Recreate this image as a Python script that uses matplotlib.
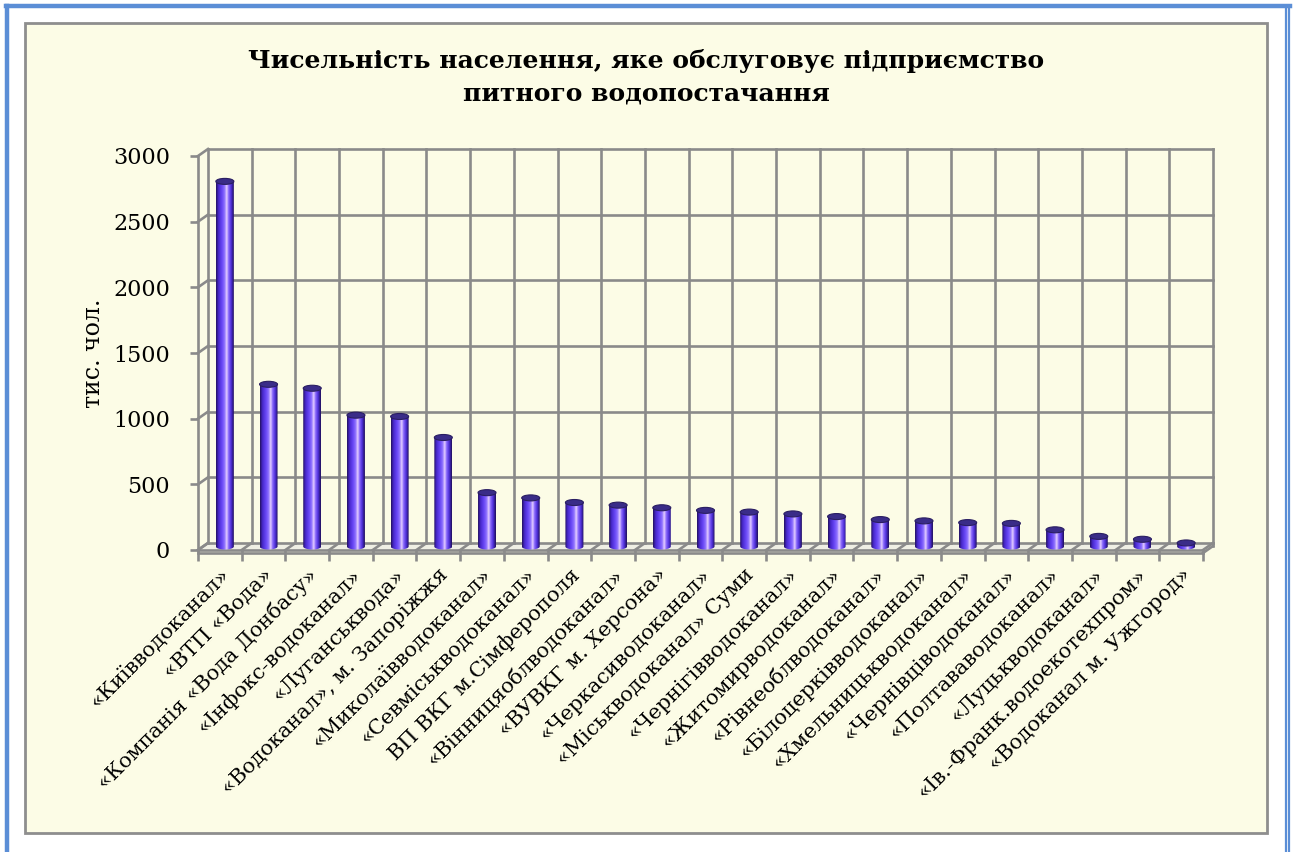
import numpy as np
import matplotlib
matplotlib.use("Agg")
import matplotlib.pyplot as plt
from matplotlib.patches import Rectangle, Ellipse, Polygon
from matplotlib.colors import LinearSegmentedColormap
from matplotlib.lines import Line2D

# ---------------- data ----------------
categories = [
    "«Київводоканал»", "«ВТП «Вода»", "«Компанія «Вода Донбасу»",
    "«Інфокс-водоканал»", "«Луганськвода»", "«Водоканал», м. Запоріжжя",
    "«Миколаївводоканал»", "«Севміськводоканал»", "ВП ВКГ м.Сімферополя",
    "«Вінницяоблводоканал»", "«ВУВКГ м. Херсона»", "«Черкасиводоканал»",
    "«Міськводоканал» Суми", "«Чернігівводоканал»", "«Житомирводоканал»",
    "«Рівнеоблводоканал»", "«Білоцерківводоканал»", "«Хмельницькводоканал»",
    "«Чернівціводоканал»", "«Полтававодоканал»", "«Луцькводоканал»",
    "«Ів.-Франк.водоекотехпром»", "«Водоканал м. Ужгород»",
]
values = [2780, 1235, 1205, 1000, 990, 830, 410, 370, 335, 315, 295, 275,
          262, 248, 228, 205, 195, 182, 176, 127, 77, 55, 27]
y_ticks = [0, 500, 1000, 1500, 2000, 2500, 3000]
title = "Чисельність населення, яке обслуговує підприємство\nпитного водопостачання"
y_label = "тис. чол."

# ---------------- layout ----------------
W, H = 1294, 852
fig = plt.figure(figsize=(W / 100, H / 100), dpi=100)
fig.patch.set_facecolor("white")

def fx(px):
    return px / W

def fy(py):
    return 1 - py / H

# blue page border
blue = "#5B8ED6"
fig.add_artist(Line2D([fx(7), fx(7)], [fy(6), 0], color=blue, lw=3.2, transform=fig.transFigure))
fig.add_artist(Line2D([fx(5.5), fx(1290)], [fy(6), fy(6)], color=blue, lw=3.2, transform=fig.transFigure))
fig.add_artist(Line2D([fx(1285.5), fx(1285.5)], [fy(6), 0], color=blue, lw=1.6, transform=fig.transFigure))
fig.add_artist(Line2D([fx(1289), fx(1289)], [fy(6), 0], color=blue, lw=1.6, transform=fig.transFigure))

# chart area
fig.add_artist(Rectangle((fx(25), fy(833)), fx(1267) - fx(25), fy(23) - fy(833),
                         transform=fig.transFigure, facecolor="#FCFCE6",
                         edgecolor="#8E8E8E", lw=2.0, zorder=0))

# title
fig.text(fx(646), fy(77), title, ha="center", va="center", fontsize=18,
         fontweight="bold", family="DejaVu Serif", linespacing=1.45)

# axes = front plane
x0p, x1p, ytop, ybot = 198, 1203, 156, 550
ax = fig.add_axes([fx(x0p), fy(ybot), fx(x1p) - fx(x0p), fy(ytop) - fy(ybot)])
ax.set_facecolor("none")
n = len(categories)
ymax = 3000
ux = n / (x1p - x0p)          # data units per pixel (x)
uy = ymax / (ybot - ytop)     # data units per pixel (y)

grid = "#8A8A8A"
glw = 1.9
dxb, dyb = 10 * ux, 7 * uy    # back-wall offset
dxm, dym = 5 * ux, 3.5 * uy   # bar (mid-depth) offset

# back wall grid
for v in y_ticks:
    ax.plot([dxb, n + dxb], [v + dyb, v + dyb], color=grid, lw=glw, clip_on=False, zorder=1)
    ax.plot([0, dxb], [v, v + dyb], color=grid, lw=glw, clip_on=False, zorder=1)
for i in range(n + 1):
    ax.plot([i + dxb, i + dxb], [dyb, ymax + dyb], color=grid, lw=glw, clip_on=False, zorder=1)
    ax.plot([i, i + dxb], [0, dyb], color=grid, lw=glw, clip_on=False, zorder=1)
# floor
ax.add_patch(Polygon([[0, 0], [n, 0], [n + dxb, dyb], [dxb, dyb]], closed=True,
                     facecolor="#EFEFE4", edgecolor="none", zorder=0.5, clip_on=False))
ax.plot([n, n + dxb], [-3 * uy, dyb - 3 * uy], color=grid, lw=glw, clip_on=False, zorder=1)
ax.plot([0, n], [-3 * uy, -3 * uy], color=grid, lw=glw, clip_on=False, zorder=1)
ax.plot([n + dxb, n + dxb], [dyb, dyb - 3 * uy], color=grid, lw=glw, clip_on=False, zorder=1)

# cylinder gradient
cmap = LinearSegmentedColormap.from_list("cyl", [
    (0.0, "#22105A"), (0.12, "#4526C8"), (0.33, "#6846F6"), (0.5, "#9478FF"),
    (0.6, "#F3DEFF"), (0.68, "#9474FF"), (0.85, "#4E2EDC"), (1.0, "#1E0E56")])
grad = np.linspace(0, 1, 64).reshape(1, -1)

bw = 18 * ux
eh = 6 * uy
th = np.linspace(np.pi, 2 * np.pi, 40)
for i, v in enumerate(values):
    c = i + 0.5 + dxm
    b = dym
    t = v + dym
    pts = np.column_stack([c + bw / 2 * np.cos(th), b + eh / 2 * np.sin(th)])
    pts = np.vstack([pts, [[c + bw / 2, t], [c - bw / 2, t]]])
    clip = Polygon(pts, closed=True, transform=ax.transData, facecolor="none", edgecolor="none")
    ax.add_patch(clip)
    im = ax.imshow(grad, cmap=cmap, aspect="auto", interpolation="bicubic",
                   extent=[c - bw / 2, c + bw / 2, b - eh, t], zorder=3)
    im.set_clip_path(clip)
    ax.add_patch(Ellipse((c, t), bw, eh, facecolor="#3A2C88", edgecolor="#2A1E62",
                         lw=0.8, zorder=4))

ax.set_xlim(0, n)
ax.set_ylim(0, ymax)

# spines / ticks
for s in ["top", "right"]:
    ax.spines[s].set_visible(False)
ax.spines["left"].set_color(grid)
ax.spines["left"].set_linewidth(glw)
ax.spines["bottom"].set_color(grid)
ax.spines["bottom"].set_linewidth(glw)

ax.set_yticks(y_ticks)
ax.set_yticklabels([str(v) for v in y_ticks], family="DejaVu Serif", fontsize=16)
ax.tick_params(axis="y", length=6, width=glw, color=grid, pad=14)

ax.set_xticks(np.arange(n) + 0.5)
ax.set_xticklabels(categories, rotation=45, ha="right", rotation_mode="anchor",
                   family="DejaVu Serif", fontsize=15)
ax.tick_params(axis="x", which="major", length=0, pad=11)
ax.set_xticks(np.arange(n + 1), minor=True)
ax.tick_params(axis="x", which="minor", length=8, width=glw, color=grid)

ax.set_ylabel(y_label, family="DejaVu Serif", fontsize=17, labelpad=6)

fig.savefig("out.png", dpi=100)
